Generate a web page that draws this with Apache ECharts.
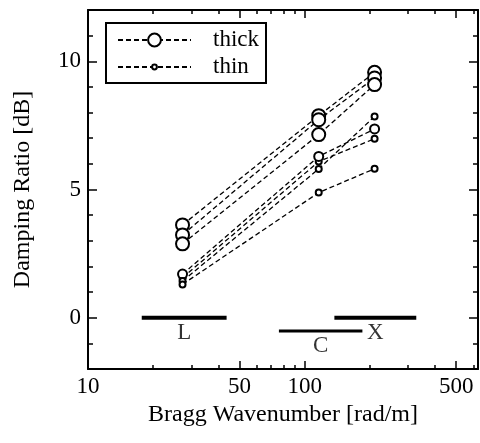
<!DOCTYPE html>
<html>
<head>
<meta charset="utf-8">
<script src="https://cdn.jsdelivr.net/npm/echarts@6/dist/echarts.min.js"></script>
<style>
html,body{margin:0;padding:0;background:#fff;}
#chart{width:480px;height:443px;}
</style>
</head>
<body>
<div id="chart"></div>
<script>
// ---- data ----
var wavenumbers = [27.3, 116, 210];          // L, C, X band Bragg wavenumbers [rad/m]
var thick1 = [3.62, 7.88, 9.57];
var thick2 = [3.23, 7.72, 9.35];
var thick3 = [2.88, 7.14, 9.09];
var thinA = [1.70, 6.29, 7.36];
var thinB = [1.56, 6.09, 6.98];
var thinC = [1.43, 5.80, 7.85];
var thinD = [1.30, 4.88, 5.81];
var bandNames = ['L', 'C', 'X'];
var bandStart = [17.7, 76, 137];
var bandEnd = [43.6, 184.5, 327];
var bandLevel = [0, -0.52, 0];
var xMajorTicks = [10, 50, 100, 500];
var xMinorTicks = [20, 30, 40, 60, 70, 80, 90, 200, 300, 400, 600];
var yMajorTicks = [0, 5, 10];
var yMinorTicks = [-1, 1, 2, 3, 4, 6, 7, 8, 9, 11];

var FONT = 'Liberation Serif, DejaVu Serif, serif';
var chart = echarts.init(document.getElementById('chart'), null, {renderer: 'canvas'});

function pts(arr) { return wavenumbers.map(function (x, i) { return [x, arr[i]]; }); }

function dataSeries(name, arr, size, bw) {
  return {
    name: name, type: 'line', data: pts(arr),
    symbol: 'emptyCircle', symbolSize: size,
    itemStyle: {color: '#000', borderColor: '#000', borderWidth: bw},
    lineStyle: {color: '#000', width: 1.3, type: [5, 3]},
    z: 5, animation: false
  };
}

var series = [
  dataSeries('thick', thick1, 13, 1.6),
  dataSeries('thick', thick2, 13, 1.6),
  dataSeries('thick', thick3, 13, 1.6),
  dataSeries('thin', thinB, 6, 1.4),
  dataSeries('thin', thinA, 9, 1.5),
  dataSeries('thin', thinC, 6, 1.4),
  dataSeries('thin', thinD, 6, 1.4)
];

bandNames.forEach(function (n, i) {
  series.push({
    name: 'band' + n, type: 'line',
    data: [[bandStart[i], bandLevel[i]], [bandEnd[i], bandLevel[i]]],
    symbol: 'none',
    lineStyle: {color: '#000', width: n === 'C' ? 3 : 4, type: 'solid'},
    z: 3, animation: false
  });
});

series.push({
  name: 'bandLabels', type: 'scatter',
  data: bandNames.map(function (n, i) {
    return {name: n, value: [Math.sqrt(bandStart[i] * bandEnd[i]), bandLevel[i]]};
  }),
  symbolSize: 1, itemStyle: {color: 'rgba(0,0,0,0)'},
  label: {show: true, position: 'bottom', distance: 3, formatter: '{b}',
    color: '#000', fontFamily: FONT, fontSize: 23},
  z: 4, animation: false
});

function xAx(pos, values, len, showLine, showLabel, extra) {
  var a = {
    type: 'log', logBase: 10, min: 10, max: 630, position: pos, gridIndex: 0,
    axisLine: {show: showLine, onZero: false, lineStyle: {color: '#000', width: 2}},
    axisTick: {show: true, inside: true, length: len, customValues: values,
      lineStyle: {color: '#000', width: 1.5}},
    axisLabel: {show: showLabel, customValues: values, color: '#000',
      fontFamily: FONT, fontSize: 23, margin: 6},
    splitLine: {show: false}, minorTick: {show: false}
  };
  for (var k in extra) a[k] = extra[k];
  return a;
}
function yAx(pos, values, len, showLine, showLabel, extra) {
  var a = {
    type: 'value', min: -2, max: 12, position: pos, gridIndex: 0,
    axisLine: {show: showLine, onZero: false, lineStyle: {color: '#000', width: 2}},
    axisTick: {show: true, inside: true, length: len, customValues: values,
      lineStyle: {color: '#000', width: 1.5}},
    axisLabel: {show: showLabel, customValues: values, color: '#000',
      fontFamily: FONT, fontSize: 23, margin: 7},
    splitLine: {show: false}
  };
  for (var k in extra) a[k] = extra[k];
  return a;
}

var option = {
  backgroundColor: '#fff',
  animation: false,
  grid: {left: 88, right: 2, top: 10, bottom: 74, containLabel: false},
  xAxis: [
    xAx('bottom', xMajorTicks, 8, true, true, {
      name: 'Bragg Wavenumber [rad/m]', nameLocation: 'middle', nameGap: 31,
      nameTextStyle: {color: '#000', fontFamily: FONT, fontSize: 24}
    }),
    xAx('bottom', xMinorTicks, 4, false, false, {}),
    xAx('top', xMajorTicks, 8, true, false, {}),
    xAx('top', xMinorTicks, 4, false, false, {})
  ],
  yAxis: [
    yAx('left', yMajorTicks, 9, true, true, {
      name: 'Damping Ratio [dB]', nameLocation: 'middle', nameGap: 53,
      nameTextStyle: {color: '#000', fontFamily: FONT, fontSize: 24}
    }),
    yAx('left', yMinorTicks, 5, false, false, {}),
    yAx('right', yMajorTicks, 9, true, false, {}),
    yAx('right', yMinorTicks, 5, false, false, {})
  ],
  legend: [
    {data: ['thick'], left: 117, top: 28, padding: 0, itemWidth: 73, itemHeight: 16,
      selectedMode: false,
      textStyle: {color: '#000', fontFamily: FONT, fontSize: 23, lineHeight: 24, padding: [0, 0, 0, 17]}},
    {data: ['thin'], left: 117, top: 55, padding: 0, itemWidth: 73, itemHeight: 6,
      selectedMode: false,
      textStyle: {color: '#000', fontFamily: FONT, fontSize: 23, lineHeight: 24, padding: [0, 0, 0, 17]}}
  ],
  graphic: [{
    type: 'rect', left: 105, top: 22, z: 0,
    shape: {width: 160, height: 60},
    style: {fill: '#fff', stroke: '#000', lineWidth: 2}
  }],
  series: series
};
chart.setOption(option);
</script>
</body>
</html>
